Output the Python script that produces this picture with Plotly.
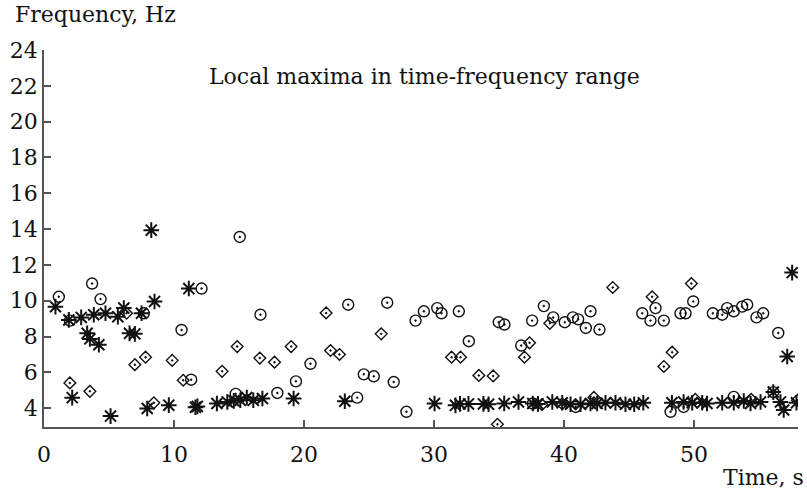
import plotly.graph_objects as go

# Asterisk series
star_t = [0.88, 1.91, 2.17, 2.86, 3.32, 3.53, 3.83, 4.22, 4.73, 5.12, 5.68, 6.14, 6.58, 6.99,
          7.50, 7.94, 8.25, 8.50, 9.60, 11.14, 11.65, 11.80, 13.30, 14.10, 14.60, 15.10, 15.60,
          16.10, 16.80, 19.20, 23.14, 30.04, 31.65, 32.00, 32.65, 33.80, 34.20, 35.40, 36.50,
          37.60, 38.00, 39.10, 39.86, 40.50, 41.27, 42.04, 42.55, 43.19, 43.96, 44.73, 45.40,
          46.10, 48.30, 49.20, 49.86, 50.63, 51.00, 52.17, 53.06, 53.83, 54.35, 55.12, 56.10,
          56.65, 56.90, 57.17, 57.55, 57.88]
star_f = [9.67, 8.93, 4.59, 9.07, 8.18, 7.87, 9.22, 7.54, 9.30, 3.56, 9.11, 9.59, 8.18, 8.15,
          9.30, 3.98, 13.94, 9.96, 4.17, 10.68, 4.05, 4.10, 4.26, 4.35, 4.41, 4.44, 4.60,
          4.44, 4.54, 4.54, 4.39, 4.26, 4.16, 4.24, 4.24, 4.24, 4.22, 4.26, 4.35,
          4.26, 4.24, 4.35, 4.30, 4.22, 4.22, 4.26, 4.26, 4.30, 4.30, 4.22, 4.22,
          4.30, 4.30, 4.35, 4.30, 4.30, 4.26, 4.30, 4.30, 4.40, 4.26, 4.35, 4.90,
          4.35, 3.90, 6.89, 11.57, 4.30]

# Circle series
circ_t = [1.14, 1.99, 3.70, 4.35, 7.68, 10.58, 11.32, 12.12, 14.75, 15.06, 16.65, 17.95, 19.38,
          20.50, 23.40, 24.09, 24.60, 25.37, 26.40, 26.90, 27.88, 28.58, 29.22, 30.25, 30.58,
          31.91, 32.68, 34.98, 35.42, 36.71, 37.55, 37.60, 38.45, 39.17, 40.06, 40.68, 40.90,
          41.09, 41.68, 42.04, 42.73, 46.02, 46.65, 47.04, 47.68, 48.20, 48.96, 49.20, 49.35,
          49.94, 51.45, 52.17, 52.55, 53.06, 53.06, 53.70, 54.09, 54.81, 55.32, 56.10, 56.48]
circ_f = [10.22, 8.89, 10.96, 10.09, 9.30, 8.37, 5.59, 10.68, 4.80, 13.56, 9.22, 4.85, 5.50,
          6.48, 9.78, 4.59, 5.89, 5.78, 9.89, 5.46, 3.80, 8.89, 9.41, 9.59, 9.30,
          9.41, 7.74, 8.80, 8.67, 7.50, 8.89, 4.26, 9.70, 9.07, 8.80, 9.07, 4.07,
          8.96, 8.48, 9.41, 8.39, 9.30, 8.89, 9.59, 8.89, 3.80, 9.30, 4.07, 9.30,
          9.96, 9.30, 9.22, 9.59, 9.41, 4.63, 9.67, 9.78, 9.07, 9.30, 4.90, 8.20]

# Diamond series
diam_t = [1.99, 3.53, 6.35, 6.99, 7.81, 8.45, 9.86, 10.71, 13.70, 14.86, 16.60, 17.73, 19.01,
          21.70, 22.04, 22.73, 25.94, 31.35, 32.04, 33.45, 34.55, 34.88, 36.96, 37.35, 38.91,
          38.30, 39.86, 42.30, 43.75, 46.78, 47.68, 48.32, 49.80, 50.10, 54.40, 57.95]
diam_f = [5.41, 4.94, 9.30, 6.43, 6.85, 4.30, 6.67, 5.56, 6.06, 7.44, 6.80, 6.57, 7.44,
          9.32, 7.22, 7.00, 8.15, 6.85, 6.85, 5.83, 5.80, 3.10, 6.85, 7.65, 8.74,
          4.20, 4.25, 4.60, 10.74, 10.22, 6.33, 7.13, 10.96, 4.50, 4.50, 4.44]

x_ticks = [0, 10, 20, 30, 40, 50]
y_ticks = [4, 6, 8, 10, 12, 14, 16, 18, 20, 22, 24]

FONT = "DejaVu Serif"
INK = "#111111"
FS = 22

fig = go.Figure()
fig.add_trace(go.Scatter(x=circ_t, y=circ_f, mode="markers",
                         marker=dict(symbol="circle-open-dot", size=11, color=INK,
                                     line=dict(width=1.4, color=INK))))
fig.add_trace(go.Scatter(x=diam_t, y=diam_f, mode="markers",
                         marker=dict(symbol="diamond-open-dot", size=9, color=INK,
                                     line=dict(width=1.4, color=INK))))
fig.add_trace(go.Scatter(x=star_t, y=star_f, mode="markers",
                         marker=dict(symbol="asterisk-open", size=13, color=INK,
                                     line=dict(width=2, color=INK))))

fig.update_layout(
    width=807, height=492,
    margin=dict(l=44, r=9, t=50, b=65),
    plot_bgcolor="white", paper_bgcolor="white",
    showlegend=False,
    font=dict(family=FONT, size=FS, color=INK),
    xaxis=dict(range=[0, 58], tickvals=x_ticks, ticks="inside", ticklen=7, tickwidth=1.5,
               tickcolor="#555", showline=True, linecolor="#555", linewidth=1.5,
               showgrid=False, zeroline=False, ticklabelstandoff=7,
               tickfont=dict(family=FONT, size=FS, color=INK)),
    yaxis=dict(range=[2.95, 24], tickvals=y_ticks, ticks="inside", ticklen=7, tickwidth=1.5,
               tickcolor="#555", showline=True, linecolor="#555", linewidth=1.5,
               showgrid=False, zeroline=False,
               tickfont=dict(family=FONT, size=FS, color=INK)),
    annotations=[
        dict(text="Local maxima in time-frequency range", x=0.505, y=0.931, xref="paper",
             yref="paper", showarrow=False, xanchor="center", yanchor="middle",
             font=dict(family=FONT, size=FS, color=INK)),
        dict(text="Frequency, Hz", x=-0.041, y=1.095, xref="paper", yref="paper",
             showarrow=False, xanchor="left", yanchor="middle",
             font=dict(family=FONT, size=FS, color=INK)),
        dict(text="Time, s", x=1.0106, y=-0.133, xref="paper", yref="paper",
             showarrow=False, xanchor="right", yanchor="middle",
             font=dict(family=FONT, size=FS, color=INK)),
    ],
)

fig.write_html("out.html")
